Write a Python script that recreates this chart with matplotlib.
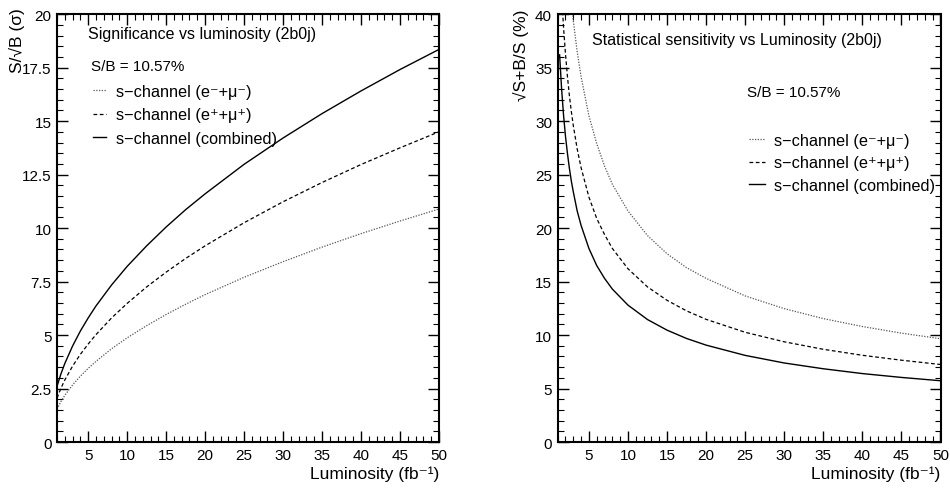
import matplotlib
matplotlib.use("Agg")
import matplotlib.pyplot as plt
from matplotlib.ticker import MultipleLocator

plt.rcParams['font.family'] = ['Liberation Sans', 'DejaVu Sans']

# ---- Left panel: significance S/sqrt(B) vs luminosity ----
lumi_sig = [1, 1.5, 2, 3, 4, 5, 6, 8, 10, 12.5, 15, 17.5, 20, 25, 30, 35, 40, 45, 50]
sig_minus = [1.54, 1.89, 2.18, 2.67, 3.08, 3.44, 3.77, 4.36, 4.87, 5.44, 5.96, 6.44, 6.89, 7.70, 8.43, 9.11, 9.74, 10.33, 10.89]
sig_plus = [2.05, 2.51, 2.90, 3.55, 4.10, 4.58, 5.02, 5.80, 6.48, 7.25, 7.94, 8.58, 9.17, 10.25, 11.23, 12.13, 12.97, 13.75, 14.50]
sig_comb = [2.60, 3.18, 3.67, 4.49, 5.19, 5.80, 6.36, 7.34, 8.21, 9.17, 10.05, 10.86, 11.60, 12.98, 14.21, 15.35, 16.41, 17.41, 18.35]

# ---- Right panel: sqrt(S+B)/S (%) vs luminosity ----
lumi_sens = [1.25, 1.5, 1.75, 2, 2.25, 2.5, 2.75, 3, 3.5, 4, 5, 6, 7, 8, 10, 12.5, 15, 17.5, 20, 25, 30, 35, 40, 45, 50]
sens_minus = [61.1, 55.8, 51.6, 48.3, 45.5, 43.2, 41.2, 39.4, 36.5, 34.15, 30.5, 27.9, 25.8, 24.1, 21.6, 19.3, 17.6, 16.3, 15.3, 13.66, 12.47, 11.54, 10.8, 10.18, 9.66]
sens_plus = [45.9, 41.9, 38.8, 36.3, 34.2, 32.4, 30.9, 29.6, 27.4, 25.65, 22.9, 20.9, 19.4, 18.1, 16.2, 14.5, 13.25, 12.26, 11.47, 10.26, 9.37, 8.67, 8.11, 7.65, 7.25]
sens_comb = [36.2, 33.07, 30.6, 28.6, 27.0, 25.6, 24.4, 23.4, 21.6, 20.25, 18.1, 16.5, 15.3, 14.3, 12.8, 11.45, 10.46, 9.68, 9.06, 8.1, 7.39, 6.85, 6.4, 6.04, 5.73]

labels = ["s\u2212channel (e\u207b+\u03bc\u207b)",
          "s\u2212channel (e\u207a+\u03bc\u207a)",
          "s\u2212channel (combined)"]
styles = [dict(color='#555555', ls=(0, (1, 1.2)), lw=0.9),
          dict(color='black', ls=(0, (3, 2)), lw=0.9),
          dict(color='black', ls='-', lw=1.0)]

fig = plt.figure(figsize=(9.5, 4.89), dpi=100)
ax1 = fig.add_axes([0.060, 0.094, 0.402, 0.875])
ax2 = fig.add_axes([0.587, 0.094, 0.403, 0.875])

for ys, st, lab in zip([sig_minus, sig_plus, sig_comb], styles, labels):
    ax1.plot(lumi_sig, ys, label=lab, **st)
for ys, st, lab in zip([sens_minus, sens_plus, sens_comb], styles, labels):
    ax2.plot(lumi_sens, ys, label=lab, **st)

fs = 11
for ax in (ax1, ax2):
    ax.set_xlim(1, 50)
    ax.set_xticks([5, 10, 15, 20, 25, 30, 35, 40, 45, 50])
    ax.xaxis.set_minor_locator(MultipleLocator(1))
    ax.tick_params(which='both', direction='in', top=True, right=True, labelsize=fs, pad=4)
    ax.tick_params(which='major', length=8, width=1.0)
    ax.tick_params(which='minor', length=4, width=0.8)
    for s in ax.spines.values():
        s.set_linewidth(1.5)
    ax.set_xlabel("Luminosity (fb\u207b\u00b9)", fontsize=12.5, loc='right', labelpad=3)

ax1.set_ylim(0, 20)
ax1.set_yticks([0, 2.5, 5, 7.5, 10, 12.5, 15, 17.5, 20])
ax1.set_yticklabels(['0', '2.5', '5', '7.5', '10', '12.5', '15', '17.5', '20'])
ax1.yaxis.set_minor_locator(MultipleLocator(0.5))
ax1.set_ylabel("S/\u221aB (\u03c3)", fontsize=12.5, ha='right')
ax1.yaxis.set_label_coords(-0.083, 1.016)

ax2.set_ylim(0, 40)
ax2.yaxis.set_major_locator(MultipleLocator(5))
ax2.yaxis.set_minor_locator(MultipleLocator(1))
ax2.set_ylabel("\u221aS+B/S (%)", fontsize=12.5, ha='right')
ax2.yaxis.set_label_coords(-0.076, 1.012)

ax1.text(0.08, 0.955, "Significance vs luminosity (2b0j)", transform=ax1.transAxes,
         fontsize=fs + 0.5, va='center', ha='left')
ax1.text(0.09, 0.878, "S/B = 10.57%", transform=ax1.transAxes,
         fontsize=fs, va='center', ha='left')
ax1.legend(loc='upper left', bbox_to_anchor=(0.065, 0.864), frameon=False, fontsize=11.7,
           handlelength=0.8, handletextpad=0.6, labelspacing=0.53, borderpad=0.2)

ax2.text(0.09, 0.94, "Statistical sensitivity vs Luminosity (2b0j)", transform=ax2.transAxes,
         fontsize=fs + 0.5, va='center', ha='left')
ax2.text(0.495, 0.817, "S/B = 10.57%", transform=ax2.transAxes,
         fontsize=fs, va='center', ha='left')
ax2.legend(loc='upper left', bbox_to_anchor=(0.47, 0.749), frameon=False, fontsize=11.7,
           handlelength=1.0, handletextpad=0.55, labelspacing=0.45, borderpad=0.2)

fig.savefig("out.png", dpi=100)
